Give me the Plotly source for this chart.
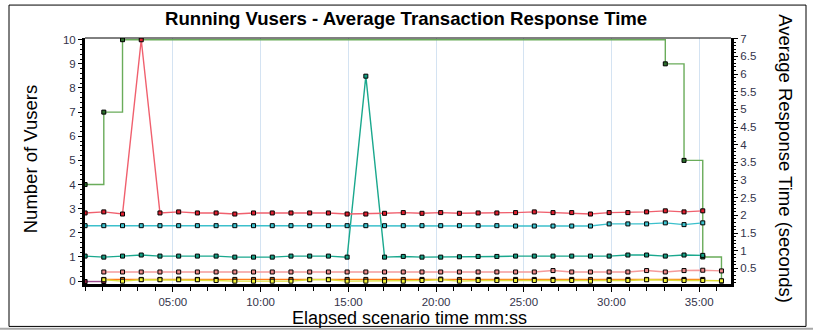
import plotly.graph_objects as go

# Sample clock: one sample every 64 s, expressed in minutes
STEP_S = 64

# Running Vusers (left axis) – only recorded where the count changes
vuser_sample_idx = [0, 1, 2, 31, 32, 33, 34]
vusers = [4, 7, 10, 9, 5, 1, 0]

# Average transaction response times (right axis, seconds), one value per sample
resp_red = [2.07, 2.10, 2.04, 6.97, 2.07, 2.10, 2.07, 2.07, 2.04, 2.07,
            2.07, 2.07, 2.07, 2.07, 2.04, 2.04, 2.06, 2.08, 2.06, 2.08,
            2.06, 2.07, 2.07, 2.08, 2.10, 2.08, 2.08, 2.04, 2.08, 2.08,
            2.10, 2.13, 2.10, 2.13]
resp_cyan = [1.71, 1.71, 1.71, 1.71, 1.71, 1.71, 1.71, 1.71, 1.71, 1.71,
             1.71, 1.71, 1.71, 1.71, 1.71, 1.71, 1.71, 1.71, 1.71, 1.71,
             1.71, 1.71, 1.71, 1.70, 1.70, 1.70, 1.70, 1.70, 1.76, 1.76,
             1.76, 1.79, 1.74, 1.79]
resp_teal = [0.85, 0.82, 0.85, 0.88, 0.85, 0.85, 0.85, 0.85, 0.82, 0.82,
             0.82, 0.85, 0.85, 0.85, 0.82, 5.94, 0.82, 0.84, 0.82, 0.82,
             0.83, 0.84, 0.84, 0.85, 0.85, 0.85, 0.85, 0.85, 0.85, 0.88,
             0.88, 0.85, 0.88, 0.87]
resp_salmon = [None, 0.40, 0.40, 0.40, 0.40, 0.40, 0.40, 0.40, 0.40, 0.40,
               0.40, 0.40, 0.40, 0.40, 0.40, 0.40, 0.40, 0.40, 0.40, 0.40,
               0.40, 0.40, 0.40, 0.40, 0.40, 0.44, 0.40, 0.40, 0.40, 0.40,
               0.44, 0.40, 0.44, 0.45, 0.43]
resp_orange = [None, 0.19, 0.19, 0.19, 0.19, 0.20, 0.19, 0.19, 0.19, 0.19,
               0.19, 0.19, 0.19, 0.19, 0.19, 0.19, 0.19, 0.19, 0.19, 0.20,
               0.19, 0.19, 0.19, 0.19, 0.19, 0.19, 0.19, 0.19, 0.19, 0.19,
               0.19, 0.19, 0.19, 0.19]
resp_yellow = [None, 0.18, 0.14, 0.18, 0.18, 0.18, 0.18, 0.16, 0.14, 0.14,
               0.14, 0.14, 0.18, 0.18, 0.14, 0.14, 0.14, 0.14, 0.16, 0.18,
               0.14, 0.16, 0.16, 0.16, 0.16, 0.16, 0.16, 0.14, 0.16, 0.16,
               0.18, 0.16, 0.16, 0.16, 0.15]
resp_purple = [0.13, 0.13]

x_tick_vals = [5, 10, 15, 20, 25, 30, 35]
x_tick_text = ["05:00", "10:00", "15:00", "20:00", "25:00", "30:00", "35:00"]


def minutes(idx):
    return [i * STEP_S / 60 for i in idx]


def series_x(values):
    return minutes(range(len(values)))


fig = go.Figure()


def add_resp(values, line_color, marker_color):
    fig.add_trace(go.Scatter(
        x=series_x(values), y=values, yaxis="y2", mode="lines+markers",
        line=dict(color=line_color, width=1.4),
        marker=dict(symbol="square", size=4, color=marker_color,
                    line=dict(color="black", width=1)),
        connectgaps=False, showlegend=False, hoverinfo="x+y"))


add_resp(resp_purple, "#9c4a8c", "#8a2040")
add_resp(resp_orange, "#ff7a1a", "#ff7a1a")
add_resp(resp_yellow, "#dede3a", "#f2f23a")
add_resp(resp_salmon, "#f59a9a", "#f08a8a")
add_resp(resp_teal, "#1aa88e", "#15a085")
add_resp(resp_cyan, "#3cc0cc", "#3cc4d0")
add_resp(resp_red, "#f0606e", "#e02030")

fig.add_trace(go.Scatter(
    x=minutes(vuser_sample_idx), y=vusers, mode="lines+markers",
    line=dict(color="#6aac5a", width=1.4, shape="hv"),
    marker=dict(symbol="square", size=4, color="#2d6e2d",
                line=dict(color="black", width=1)),
    showlegend=False, hoverinfo="x+y"))

# plot-area geometry in pixels
W, H = 813, 330
L, R, T, B = 85, 731, 37.5, 284
pw, ph = R - L, B - T


def px(x):
    return (x - L) / pw


def py(y):
    return (B - y) / ph


FONT = "Liberation Sans, Arial, sans-serif"
tick_font = dict(family=FONT, size=11.5, color="#33334a")
title_font = dict(family=FONT, size=18.5, color="black")

fig.update_layout(
    width=W, height=H,
    margin=dict(l=L, r=W - R, t=T, b=H - B, pad=0),
    paper_bgcolor="white", plot_bgcolor="white",
    xaxis=dict(
        range=[-0.005, 36.81], tickvals=x_tick_vals, ticktext=x_tick_text,
        ticks="outside", ticklen=5, tickwidth=1, tickcolor="black",
        tickfont=tick_font, showgrid=True, gridcolor="#d4e3f2", gridwidth=1,
        zeroline=False, showline=True, linecolor="black", linewidth=3,
        minor=dict(dtick=1, tick0=0, ticks="outside", ticklen=4,
                   tickcolor="black", showgrid=False),
    ),
    yaxis=dict(
        range=[-0.12, 10.07], dtick=1, ticks="outside", ticklen=4,
        tickcolor="black", tickfont=tick_font, showgrid=False,
        zeroline=False, showline=True, linecolor="black", linewidth=3,
        minor=dict(dtick=0.2, ticks="outside", ticklen=2, tickcolor="black"),
    ),
    yaxis2=dict(
        range=[0.06, 7.02], dtick=0.5, overlaying="y", side="right",
        ticks="outside", ticklen=4, tickcolor="black", tickfont=tick_font,
        showgrid=False, zeroline=False, showline=True, linecolor="black",
        linewidth=3,
        minor=dict(dtick=0.1, ticks="outside", ticklen=2, tickcolor="black"),
    ),
    shapes=[
        # top edge of plot area
        dict(type="line", xref="paper", yref="paper", x0=0, x1=1, y0=1, y1=1,
             line=dict(color="black", width=1)),
        # outer frame
        dict(type="rect", xref="paper", yref="paper",
             x0=px(9), x1=px(806), y0=py(326.5), y1=py(4.5),
             line=dict(color="black", width=1), layer="below"),
        # bottom separator
        dict(type="line", xref="paper", yref="paper",
             x0=px(0), x1=px(813), y0=py(328.8), y1=py(328.8),
             line=dict(color="#a8a8a8", width=2)),
    ],
    annotations=[
        dict(text="<b>Running Vusers - Average Transaction Response Time</b>",
             xref="paper", yref="paper", x=px(406), y=py(18),
             xanchor="center", yanchor="middle", showarrow=False,
             font=dict(family=FONT, size=18.6, color="black")),
        dict(text="Number of Vusers", xref="paper", yref="paper",
             x=px(30), y=py(159), textangle=-90, xanchor="center",
             yanchor="middle", showarrow=False, font=title_font),
        dict(text="Average Response Time (seconds)", xref="paper",
             yref="paper", x=px(786), y=py(158), textangle=90,
             xanchor="center", yanchor="middle", showarrow=False,
             font=title_font),
        dict(text="Elapsed scenario time mm:ss", xref="paper", yref="paper",
             x=px(409), y=py(318.5), xanchor="center", yanchor="middle",
             showarrow=False, font=dict(family=FONT, size=18, color="black")),
    ],
)

fig.write_html("out.html")
